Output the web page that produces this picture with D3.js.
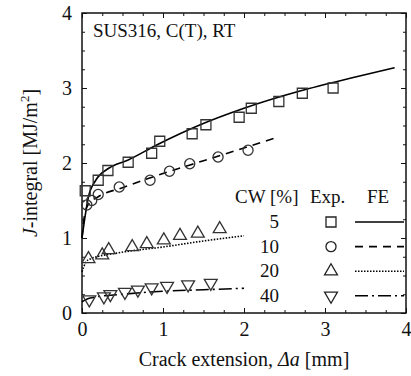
<!DOCTYPE html>
<html>
<head>
<meta charset="utf-8">
<script src="https://cdn.jsdelivr.net/npm/d3@7"></script>
<style>
  html, body { margin: 0; background: #fff; overflow: hidden; }
  svg { display: block; }
  svg text { font-family: "Liberation Serif", "Times New Roman", serif; fill: #111; }
</style>
</head>
<body>
<div id="chart"></div>
<script>
//svg size
const width = 411;
const height = 376;
const margin = { top: 13, right: 5, bottom: 63, left: 82 };
const innerWidth = width - margin.left - margin.right;
const innerHeight = height - margin.top - margin.bottom;

//experiment points [crack extension mm, J MJ/m2]
const exp5 = [[0.04, 1.63], [0.2, 1.77], [0.32, 1.9], [0.57, 2.01], [0.86, 2.13], [0.96, 2.29],
  [1.36, 2.39], [1.53, 2.51], [1.94, 2.61], [2.09, 2.73], [2.43, 2.82], [2.72, 2.93], [3.1, 3.0]];
const exp10 = [[0.06, 1.44], [0.12, 1.5], [0.2, 1.58], [0.46, 1.68], [0.84, 1.77], [1.08, 1.89],
  [1.33, 1.99], [1.68, 2.08], [2.05, 2.17]];
const exp20 = [[0.08, 0.72], [0.25, 0.77], [0.33, 0.84], [0.62, 0.88], [0.8, 0.92], [1.01, 0.97],
  [1.21, 1.03], [1.43, 1.06], [1.7, 1.12]];
const exp40 = [[0.09, 0.18], [0.27, 0.22], [0.35, 0.25], [0.53, 0.28], [0.69, 0.31], [0.86, 0.34],
  [1.05, 0.36], [1.31, 0.38], [1.59, 0.4]];

//finite element curves
const fe5 = [[0, 1.0], [0.04, 1.3], [0.08, 1.55], [0.17, 1.77], [0.33, 1.93], [0.57, 2.04], [0.94, 2.25],
  [1.46, 2.51], [2.0, 2.73], [2.69, 2.96], [3.31, 3.13], [3.86, 3.27]];
const fe10 = [[0, 1.0], [0.03, 1.3], [0.08, 1.45], [0.2, 1.55], [0.5, 1.67], [1.0, 1.86], [1.5, 2.03],
  [2.0, 2.2], [2.43, 2.35]];
const fe20 = [[0, 0.55], [0.05, 0.68], [0.1, 0.72], [0.44, 0.8], [1.0, 0.88], [1.5, 0.96], [2.0, 1.03]];
const fe40 = [[0, 0.15], [0.1, 0.2], [0.5, 0.25], [1.0, 0.29], [1.5, 0.31], [2.0, 0.33]];

const cwLabels = ["5", "10", "20", "40"];
const xTicks = [0, 1, 2, 3, 4];
const yTicks = [0, 1, 2, 3, 4];

const series = [
  { cw: cwLabels[0], exp: exp5, fe: fe5, symbol: d3.symbolSquare, size: 100, rotate: 0, dash: null },
  { cw: cwLabels[1], exp: exp10, fe: fe10, symbol: d3.symbolCircle, size: 80, rotate: 0, dash: "8,6" },
  { cw: cwLabels[2], exp: exp20, fe: fe20, symbol: d3.symbolTriangle, size: 72, rotate: 0, dash: "1.5,1.5" },
  { cw: cwLabels[3], exp: exp40, fe: fe40, symbol: d3.symbolTriangle, size: 72, rotate: 180, dash: "13,4,2,4" },
];

const svg = d3.select("#chart").append("svg")
  .attr("width", width)
  .attr("height", height)
  .attr("font-family", "Liberation Serif");

const g = svg.append("g").attr("transform", `translate(${margin.left},${margin.top})`);

const x = d3.scaleLinear().domain([0, 4]).range([0, innerWidth]);
const y = d3.scaleLinear().domain([0, 4]).range([innerHeight, 0]);
const minor = d3.range(0, 4.001, 0.25);

//axes, ticks inward on all four sides
function styleAxis(sel, keepText) {
  sel.attr("font-family", null);
  sel.select(".domain").remove();
  sel.selectAll("line").attr("stroke", "#111").attr("stroke-width", 1);
  if (keepText) sel.selectAll("text").attr("font-size", 20).attr("fill", "#111");
  else sel.selectAll("text").remove();
}

g.append("g").attr("transform", `translate(0,${innerHeight})`)
  .call(d3.axisBottom(x).tickValues(minor).tickSize(-3))
  .call(styleAxis, false);
g.append("g").attr("transform", `translate(0,${innerHeight})`)
  .call(d3.axisBottom(x).tickValues(xTicks).tickSize(-5).tickPadding(9).tickFormat(d3.format("d")))
  .call(styleAxis, true);
g.append("g")
  .call(d3.axisTop(x).tickValues(minor).tickSize(-3))
  .call(styleAxis, false);
g.append("g")
  .call(d3.axisTop(x).tickValues(xTicks).tickSize(-5))
  .call(styleAxis, false);

g.append("g")
  .call(d3.axisLeft(y).tickValues(minor).tickSize(-3))
  .call(styleAxis, false);
g.append("g")
  .call(d3.axisLeft(y).tickValues(yTicks).tickSize(-5).tickPadding(10).tickFormat(d3.format("d")))
  .call(styleAxis, true);
g.append("g").attr("transform", `translate(${innerWidth},0)`)
  .call(d3.axisRight(y).tickValues(minor).tickSize(-3))
  .call(styleAxis, false);
g.append("g").attr("transform", `translate(${innerWidth},0)`)
  .call(d3.axisRight(y).tickValues(yTicks).tickSize(-5))
  .call(styleAxis, false);

g.append("rect")
  .attr("width", innerWidth)
  .attr("height", innerHeight)
  .attr("fill", "none")
  .attr("stroke", "#111")
  .attr("stroke-width", 1.5);

//fe curves
const line = d3.line()
  .x((d) => x(d[0]))
  .y((d) => y(d[1]))
  .curve(d3.curveMonotoneX);

g.selectAll("path.fe")
  .data(series)
  .join("path")
  .attr("class", "fe")
  .attr("d", (d) => line(d.fe))
  .attr("fill", "none")
  .attr("stroke", "#000")
  .attr("stroke-width", 1.6)
  .attr("stroke-dasharray", (d) => d.dash);

//experiment markers
series.forEach((s) => {
  const sym = d3.symbol().type(s.symbol).size(s.size);
  g.append("g")
    .selectAll("path")
    .data(s.exp)
    .join("path")
    .attr("d", sym)
    .attr("transform", (d) => `translate(${x(d[0])},${y(d[1])}) rotate(${s.rotate})`)
    .attr("fill", "none")
    .attr("stroke", "#333")
    .attr("stroke-width", 1.3);
});

//title
g.append("text")
  .attr("x", 11)
  .attr("y", 24)
  .attr("font-size", 19)
  .text("SUS316, C(T), RT");

//legend
const legend = svg.append("g");
legend.append("text").attr("x", 235).attr("y", 203).attr("font-size", 19).text("CW [%]");
legend.append("text").attr("x", 310).attr("y", 203).attr("font-size", 19).text("Exp.");
legend.append("text").attr("x", 367).attr("y", 203).attr("font-size", 19).text("FE");

const rowY = (i) => 222 + i * 24.6;
const legendRow = legend.selectAll("g.row")
  .data(series)
  .join("g")
  .attr("class", "row")
  .attr("transform", (d, i) => `translate(0,${rowY(i)})`);

legendRow.append("text")
  .attr("x", 279)
  .attr("y", 6)
  .attr("text-anchor", "end")
  .attr("font-size", 19)
  .text((d) => d.cw);

legendRow.append("path")
  .attr("d", (d) => d3.symbol().type(d.symbol).size(d.size)())
  .attr("transform", (d) => `translate(331,0) rotate(${d.rotate})`)
  .attr("fill", "none")
  .attr("stroke", "#222")
  .attr("stroke-width", 1.3);

legendRow.append("line")
  .attr("x1", 355)
  .attr("x2", 404)
  .attr("stroke", "#000")
  .attr("stroke-width", 1.6)
  .attr("stroke-dasharray", (d) => d.dash);

//axis titles
const xTitle = svg.append("text")
  .attr("x", margin.left + innerWidth / 2)
  .attr("y", 366)
  .attr("text-anchor", "middle")
  .attr("font-size", 20);
xTitle.append("tspan").text("Crack extension, ");
xTitle.append("tspan").attr("font-style", "italic").text("Δa");
xTitle.append("tspan").text(" [mm]");

const yTitle = svg.append("text")
  .attr("transform", `translate(37,${margin.top + innerHeight / 2}) rotate(-90)`)
  .attr("text-anchor", "middle")
  .attr("font-size", 20);
yTitle.append("tspan").attr("font-style", "italic").text("J");
yTitle.append("tspan").text("-integral [MJ/m");
yTitle.append("tspan").attr("font-size", 13).attr("dy", -8).text("2");
yTitle.append("tspan").attr("dy", 8).text("]");
</script>
</body>
</html>
